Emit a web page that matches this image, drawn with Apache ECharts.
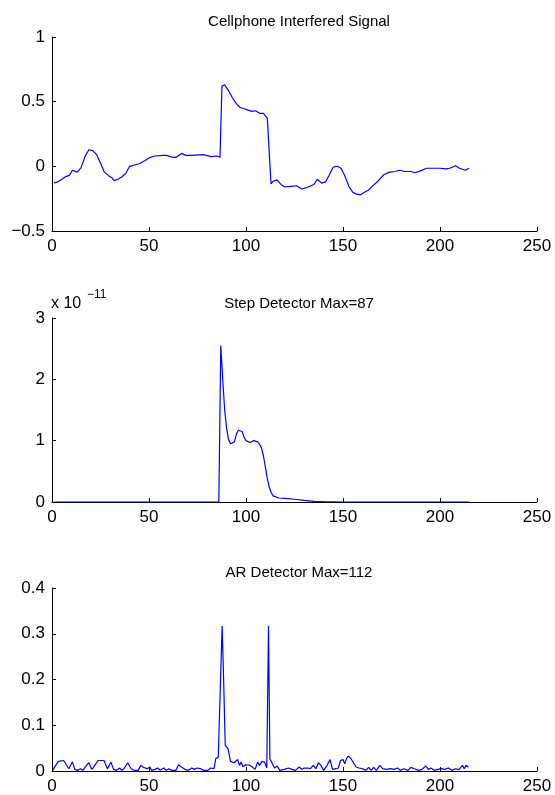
<!DOCTYPE html>
<html>
<head>
<meta charset="utf-8">
<script src="https://cdn.jsdelivr.net/npm/echarts@6/dist/echarts.min.js"></script>
<style>
  html, body { margin: 0; padding: 0; background: #fff; }
  #chart { width: 555px; height: 795px; }
</style>
</head>
<body>
<div id="chart"></div>
<script>
// titles
var titles = ['Cellphone Interfered Signal', 'Step Detector Max=87', 'AR Detector Max=112'];
var xTicks = [0, 250, 50];

// signal (x, value)
var signalPts = [
  [1,-0.128],[3,-0.12],[5,-0.10],[7,-0.08],[9,-0.07],[10.5,-0.03],[13,-0.045],[15,-0.01],
  [17,0.075],[19,0.128],[21,0.122],[23,0.09],[25,0.025],[27,-0.045],[29,-0.07],[31,-0.09],
  [32,-0.11],[34,-0.10],[36,-0.08],[38,-0.055],[40,0.0],[41,0.015],[45,0.02],[48,0.045],
  [50,0.065],[53,0.08],[57,0.085],[59,0.085],[62,0.07],[64,0.07],[66.7,0.10],[69,0.085],
  [72,0.085],[78,0.09],[82,0.075],[85,0.08],[86,0.09],[86.6,0.07],[87.6,0.62],[89,0.63],
  [91,0.585],[93,0.53],[95,0.485],[97,0.455],[99,0.445],[101,0.435],[103,0.425],[105,0.43],
  [107,0.41],[109,0.41],[110,0.405],[111,0.37],[112,0.10],[112.9,-0.135],[114,-0.115],
  [116,-0.105],[118,-0.14],[120,-0.16],[123,-0.155],[126,-0.15],[128.8,-0.175],[132,-0.16],
  [135,-0.14],[136.8,-0.10],[139,-0.13],[141,-0.12],[143,-0.065],[145,-0.005],[147,0.0],
  [149,-0.015],[151,-0.075],[153,-0.155],[155,-0.2],[157,-0.215],[159,-0.22],[161,-0.2],
  [163,-0.185],[165,-0.155],[168,-0.115],[171,-0.065],[174,-0.045],[177,-0.04],[179,-0.03],
  [182,-0.04],[185,-0.04],[187,-0.05],[190,-0.035],[193,-0.015],[194,0.0],[197,-0.015],
  [200,-0.015],[203,-0.02],[205,-0.015],[208,0.005],[210,-0.015],[213,-0.03],[215,-0.015]
];

// step detector, in units of 1e-11
var stepPts = [
  [1,0],[86,0],[87,2.55],[88,2.0],[89,1.5],[90,1.2],[91,1.02],[92,0.95],[93,0.93],[94,0.98],
  [95,1.1],[96,1.17],[97,1.2],[98,1.15],[99,1.06],[100,1.0],[101,0.97],[102,0.97],[103,0.98],
  [104,1.0],[105,1.0],[106,0.98],[107,0.94],[108,0.88],[109,0.75],[110,0.57],[111,0.38],
  [112,0.24],[113,0.15],[114,0.1],[115,0.08],[117,0.065],[120,0.06],[125,0.045],[130,0.025],
  [135,0.01],[140,0.005],[150,0],[215,0]
];

// AR detector
var arPts = [
  [0.5,0.0014],[1.4,0.009],[2.4,0.005],[3.3,0.021],[6,0.023],[6.9,0.021],[8.7,0.005],[9.6,0.0036],
  [10.5,0.02],[11.8,0.0036],[13.2,0.0014],[14.7,0.005],[15.9,0.0014],[17.8,0.0123],[19,0.018],
  [20.5,0.0036],[21.4,0.008],[22.3,0.005],[23.7,0.023],[26.8,0.023],[28.6,0.005],[30.4,0.0195],
  [31.7,0.0036],[33.2,0.0014],[35,0.0065],[35.9,0.0014],[37.1,0.005],[39,0.018],[40.8,0.005],
  [42.2,0.0014],[44.4,0.0014],[45.8,0.0123],[47.1,0.008],[48,0.0094],[49.1,0.005],[50.4,0.0087],
  [51.3,0.0014],[53.1,0.0036],[54.5,0.0065],[55.8,0.0014],[57.6,0.0065],[58.9,0.0014],[60.3,0.005],
  [61.8,0.0014],[63.9,0.0014],[65.2,0.0137],[66.7,0.0087],[68.5,0.0036],[70.3,0.0014],[72.1,0.0065],
  [73.4,0.0036],[74.8,0.0065],[76.6,0.005],[78.1,0.0014],[80.3,0.0014],[81.7,0.0065],[83.5,0.005],
  [84.4,0.027],[85.7,0.03],[87.7,0.317],[88.4,0.21],[89.3,0.056],[90.8,0.048],[92,0.021],
  [93.8,0.018],[94.7,0.0137],[95.7,0.025],[96.6,0.0123],[97.5,0.0195],[98.4,0.0094],[99.8,0.0137],
  [102,0.0123],[103.4,0.008],[104.7,0.0036],[106,0.0195],[107,0.0123],[108.3,0.021],[109.6,0.0195],
  [110.7,0.0065],[111.6,0.317],[112.3,0.027],[113.2,0.023],[114.7,0.0065],[116.1,0.011],
  [117.4,0.0014],[119.7,0.0036],[121.9,0.0065],[123.7,0.0036],[125.5,0.0014],[127.4,0.0087],
  [128.8,0.0036],[130,0.0065],[131.9,0.0065],[133.2,0.005],[134.6,0.0123],[136,0.005],
  [137.3,0.018],[138.6,0.0123],[140,0.0014],[141.8,0.0123],[143.3,0.025],[144.6,0.0036],
  [146.4,0.005],[147.6,0.0065],[148.7,0.023],[150,0.025],[150.9,0.016],[151.8,0.027],
  [152.7,0.0325],[154,0.028],[155.4,0.018],[156.7,0.0087],[158.2,0.0065],[160,0.005],
  [161.8,0.0014],[163.2,0.008],[164.5,0.0014],[165.8,0.008],[167.2,0.0014],[169,0.0123],
  [170.5,0.005],[172.6,0.0036],[174.5,0.005],[176.3,0.0036],[178.1,0.0065],[179.5,0.0014],
  [181.3,0.005],[183.5,0.0014],[185,0.008],[186.8,0.005],[189,0.0014],[190.8,0.0036],
  [192.6,0.011],[194,0.0036],[195.3,0.0065],[197.1,0.0014],[198.9,0.0036],[200.7,0.005],
  [202.5,0.0036],[204.3,0.0065],[206.2,0.0014],[208,0.005],[209.8,0.003],[211.6,0.0123],
  [212.5,0.005],[213.4,0.0123],[214.7,0.0087]
];

var yRanges = [[-0.5, 1, 0.5], [0, 3, 1], [0, 0.4, 0.1]];

var font = 'Liberation Sans, Arial, Helvetica, sans-serif';
var myChart = echarts.init(document.getElementById('chart'));

var grids = [
  {left: 52, width: 485, top: 37, height: 194},
  {left: 52, width: 485, top: 318, height: 184},
  {left: 52, width: 485, top: 588, height: 184}
];
var titleTops = [9, 291, 560];

var axisLine = {show: true, onZero: false, lineStyle: {color: '#000', width: 1}};

function fmt(v) {
  return String(v).replace('-', '\u2212');
}

var xAxis = [], yAxis = [], series = [], title = [];
[signalPts, stepPts, arPts].forEach(function (pts, i) {
  xAxis.push({
    type: 'value', gridIndex: i, min: xTicks[0], max: xTicks[1], interval: xTicks[2],
    axisLine: axisLine,
    axisTick: {show: true, inside: true, length: 4, lineStyle: {color: '#000'}},
    axisLabel: {color: '#000', fontSize: 17, fontFamily: font, margin: 7},
    splitLine: {show: false}
  });
  yAxis.push({
    type: 'value', gridIndex: i, min: yRanges[i][0], max: yRanges[i][1], interval: yRanges[i][2],
    axisLine: axisLine,
    axisTick: {show: true, inside: true, length: 4, lineStyle: {color: '#000'}},
    axisLabel: {color: '#000', fontSize: 17, fontFamily: font, margin: 7, formatter: fmt},
    splitLine: {show: false}
  });
  series.push({
    type: 'line', xAxisIndex: i, yAxisIndex: i, data: pts,
    showSymbol: false, symbol: 'none',
    lineStyle: {color: '#0000ff', width: 1.2}
  });
  title.push({
    text: titles[i], left: 294, top: titleTops[i], textAlign: 'center',
    textStyle: {color: '#000', fontSize: 15, fontWeight: 'normal', fontFamily: font}
  });
});

var option = {
  animation: false,
  backgroundColor: '#fff',
  title: title,
  grid: grids,
  xAxis: xAxis,
  yAxis: yAxis,
  series: series,
  graphic: [
    {type: 'text', left: 51, top: 296,
      style: {text: 'x 10', fill: '#000', fontSize: 16, fontFamily: font}},
    {type: 'text', left: 87, top: 289,
      style: {text: '\u221211', fill: '#000', fontSize: 12, fontFamily: font}}
  ]
};
myChart.setOption(option);
window.onresize = function () {
  myChart.resize();
};
</script>
</body>
</html>
